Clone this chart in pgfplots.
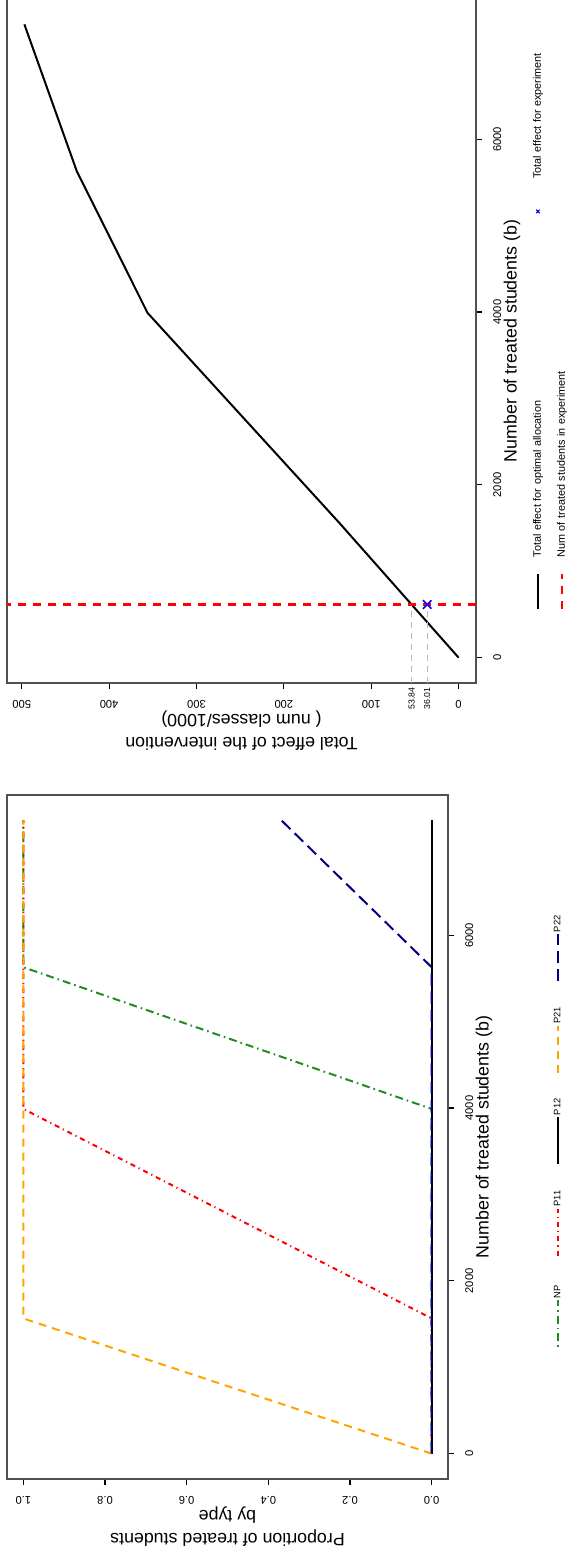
\documentclass[border=0pt]{standalone}
\usepackage{fontspec}
\setmainfont{Liberation Sans}
\usepackage{graphicx}
\usepackage{pgfplots}
\pgfplotsset{compat=1.18}

\definecolor{npgreen}{RGB}{34,139,34}
\definecolor{p21orange}{RGB}{255,165,0}
\definecolor{p22navy}{RGB}{0,0,128}
\definecolor{boxgray}{RGB}{80,80,80}
\definecolor{guidegray}{RGB}{185,185,185}

\pgfplotsset{
  rbase/.style={
    scale only axis, width=342pt,
    xmin=-293.2, xmax=7623.2,
    axis line style={boxgray, line width=0.7pt},
    tick align=outside, major tick length=3pt,
    xtick pos=bottom, ytick pos=left,
    tick style={black, line width=0.6pt},
    xtick={0,2000,4000,6000},
    /pgf/number format/assume math mode=true,
    /pgf/number format/set thousands separator={},
    ticklabel style={font=\fontsize{5.6}{6.5}\selectfont, inner sep=0pt},
    xticklabel style={anchor=north},
    yticklabel style={rotate=90, anchor=south},
    xticklabel shift=5.5pt, yticklabel shift=5.5pt,
    label style={font=\fontsize{8.9}{11.5}\selectfont},
    xlabel={Number of treated students (b)},
    xlabel style={at={(axis description cs:0.5,0)}, anchor=center, yshift=-18pt},
    ylabel style={at={(axis description cs:0,0.5)}, anchor=center, yshift=24pt, align=center},
    legend cell align=left,
  }
}

\begin{document}
\rotatebox{90}{%
\begin{tikzpicture}
\path[use as bounding box] (0pt,0pt) rectangle (779pt,285pt);

% left panel: share of each type treated
\begin{axis}[rbase,
  at={(39.5pt,61pt)}, anchor=south west, height=220.5pt,
  ymin=-0.04, ymax=1.04,
  ytick={0,0.2,0.4,0.6,0.8,1},
  yticklabel style={/pgf/number format/.cd, fixed, fixed zerofill, precision=1},
  ylabel={Proportion of treated students\\by type},
  legend columns=5,
  legend style={draw=none, fill=none, inner sep=0pt, outer sep=0pt,
    at={(axis description cs:0.1915,-0.2494)}, anchor=west,
    font=\fontsize{4.7}{5.5}\selectfont,
    nodes={inner sep=0pt, text width=9pt, text height=3.4pt, text depth=0.9pt},
    /tikz/every odd column/.append style={column sep=0.5pt},
    /tikz/every even column/.append style={column sep=11.75pt}},
  legend image code/.code={\draw[#1] (0pt,0pt) -- (23.5pt,0pt);},
]
\addplot[npgreen, line width=1pt, dash pattern=on 0.8pt off 2pt on 4pt off 2pt]
  coordinates {(0,0) (3990,0) (5630,1) (7330,1)};
\addlegendentry{NP}
\addplot[red, line width=1pt, dash pattern=on 2.5pt off 2pt on 0.6pt off 2pt]
  coordinates {(0,0) (1565,0) (3990,1) (7330,1)};
\addlegendentry{P11}
\addplot[black, line width=1pt]
  coordinates {(0,0) (7330,0)};
\addlegendentry{P12}
\addplot[p21orange, line width=1pt, dash pattern=on 4pt off 3pt]
  coordinates {(0,0) (1565,1) (7330,1)};
\addlegendentry{P21}
\addplot[p22navy, line width=1pt, dash pattern=on 6pt off 3pt]
  coordinates {(0,0) (5630,0) (7330,0.368)};
\addlegendentry{P22}
\end{axis}

% right panel: total effect
\begin{axis}[rbase,
  at={(437.5pt,47pt)}, anchor=south west, height=234.5pt,
  ymin=-19.88, ymax=516.88,
  ytick={0,100,200,300,400,500},
  extra y ticks={36.01,53.84},
  extra y tick labels={36.01,53.84},
  extra y tick style={major tick length=0pt, yticklabel shift=2pt,
    yticklabel style={rotate=-90, anchor=east, font=\fontsize{4.35}{5}\selectfont}},
  ylabel={Total effect of the intervention\\( num classes/1000)},
  legend columns=2,
  legend style={draw=none, fill=none, inner sep=0pt, outer sep=0pt,
    at={(axis description cs:0.1067,-0.1215)}, anchor=north west,
    font=\fontsize{5.4}{6}\selectfont,
    nodes={inner sep=0pt, text width=164.25pt, text height=3.9pt, text depth=1.1pt},
    row sep=7pt,
    /tikz/every odd column/.append style={column sep=7.5pt}},
  legend image code/.code={\draw[#1] (0pt,0pt) -- (17.5pt,0pt);},
]
\addplot[black, line width=1pt]
  coordinates {(0,0) (1565,137) (3990,356) (5630,437) (7330,497)};
\addlegendentry{Total effect for optimal allocation}
\addplot[guidegray, line width=0.5pt, dash pattern=on 3pt off 2.5pt, forget plot]
  coordinates {(-293.2,53.84) (615,53.84)};
\addplot[guidegray, line width=0.5pt, dash pattern=on 3pt off 2.5pt, forget plot]
  coordinates {(-293.2,36.01) (615,36.01)};
\addplot[blue, only marks, mark=x, mark size=3pt, line width=0.8pt,
  legend image code/.code={\path[draw=none] (0pt,0pt) -- (17.5pt,0pt);
    \draw[blue, line width=0.6pt, mark=x, mark size=1.2pt] plot[only marks] coordinates {(8.75pt,0pt)};}]
  coordinates {(615,36.01)};
\addlegendentry{Total effect for experiment}
\addplot[red, line width=1.3pt, dash pattern=on 4pt off 3.5pt]
  coordinates {(615,-19.88) (615,516.88)};
\addlegendentry{Num of treated students in experiment}
\end{axis}
\end{tikzpicture}%
}
\end{document}
